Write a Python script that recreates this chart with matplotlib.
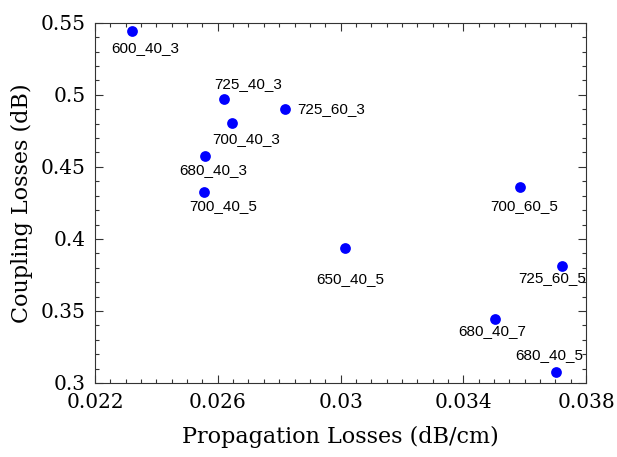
import numpy as np
import matplotlib.pyplot as plt
from matplotlib.ticker import MultipleLocator

# values
labels = ['600_40_3', '725_40_3', '725_60_3', '700_40_3', '680_40_3', '700_40_5',
          '700_60_5', '650_40_5', '725_60_5', '680_40_7', '680_40_5']
prop_loss = [0.02320, 0.02621, 0.02819, 0.02647, 0.02557, 0.02555,
             0.03585, 0.03014, 0.03722, 0.03502, 0.03702]
coup_loss = [0.5444, 0.4968, 0.4903, 0.4803, 0.4576, 0.4326,
             0.4357, 0.3935, 0.3815, 0.3447, 0.3076]

# label offsets in points (x right, y up)
offsets = [(10, -12), (17, 11), (9, 0), (10, -11), (6, -10), (14, -10),
           (3, -13), (4, -22), (-7, -9), (-2, -9), (-5, 12)]
aligns = ['center'] * 11
aligns[2] = 'left'

fig = plt.figure(figsize=(6.17, 4.57), dpi=100)
ax = fig.add_axes([0.154, 0.162, 0.796, 0.788])

ax.scatter(prop_loss, coup_loss, s=60, color='#0000ff', zorder=3, linewidths=0)
for x, y, lab, off, ha in zip(prop_loss, coup_loss, labels, offsets, aligns):
    ax.annotate(lab, xy=(x, y), xytext=off, textcoords='offset points',
                ha=ha, va='center', fontsize=11, family='Liberation Sans',
                annotation_clip=False)

ax.set_xlim(0.022, 0.038)
ax.set_ylim(0.3, 0.55)
ax.xaxis.set_minor_locator(MultipleLocator(0.0005))
ax.yaxis.set_minor_locator(MultipleLocator(0.01))
ax.set_xticks([0.022, 0.026, 0.03, 0.034, 0.038])
ax.set_xticklabels(['0.022', '0.026', '0.03', '0.034', '0.038'])
ax.set_yticks([0.3, 0.35, 0.4, 0.45, 0.5, 0.55])
ax.set_yticklabels(['0.3', '0.35', '0.4', '0.45', '0.5', '0.55'])

ax.tick_params(which='both', direction='in', top=True, right=True, color='#333333', width=0.8)
ax.tick_params(which='major', length=6, labelsize=14.5, pad=7)
ax.tick_params(which='minor', length=3)
for lab in ax.get_xticklabels() + ax.get_yticklabels():
    lab.set_family('DejaVu Serif')
for s in ax.spines.values():
    s.set_color('#333333')
    s.set_linewidth(0.8)

ax.set_xlabel('Propagation Losses (dB/cm)', family='DejaVu Serif', fontsize=16, labelpad=10)
ax.set_ylabel('Coupling Losses (dB)', family='DejaVu Serif', fontsize=16, labelpad=5)

fig.savefig('out.png', dpi=100)
